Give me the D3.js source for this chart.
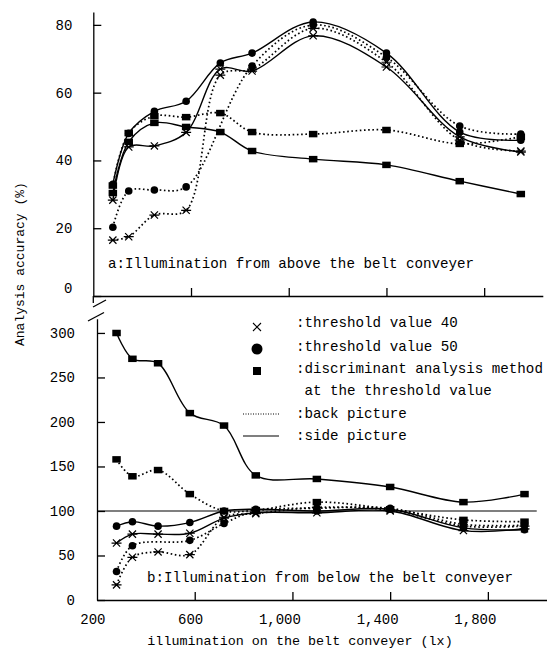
<!DOCTYPE html>
<html><head><meta charset="utf-8">
<script src="https://cdn.jsdelivr.net/npm/d3@7/dist/d3.min.js"></script>
<style>
body{margin:0;background:#fff}
text{font-family:"Liberation Mono","DejaVu Sans Mono",monospace;fill:#000}
</style>
</head><body>
<svg id="chart" width="551" height="651"></svg>
<script>
// ---------- data ----------
const xValues = [280, 345, 450, 580, 720, 850, 1100, 1400, 1700, 1950];
const xTickValues = [200, 600, 1000, 1400, 1800];
const xTickLabels = ["200", "600", "1,000", "1,400", "1,800"];
const upperYTicks = [0, 20, 40, 60, 80];
const lowerYTicks = [0, 50, 100, 150, 200, 250, 300];

// a: illumination from above
const aSideCircle = [33, 48, 54.5, 57.5, 68.8, 71.7, 80.9, 71.7, 48.4, 46.0];
const aBackCircle = [20.3, 31.0, 31.3, 32.2, null, 67.9, 80.0, 70.5, 50.2, 47.8];
const aSideCross  = [28.3, 44.0, 44.3, 48.3, 67.0, 66.4, 76.8, 67.6, 47.0, 42.5];
const aBackCross  = [16.5, 17.5, 23.9, 25.3, 65.2, 67.0, 79.0, 69.0, 46.0, 42.8];
const aSideSquare = [30.4, 45.5, 51.1, 49.9, 48.4, 42.8, 40.4, 38.7, 33.9, 30.1];
const aBackSquare = [32.6, 48.1, 53.1, 52.8, 54.0, 48.4, 47.8, 49.0, 44.9, 47.0];

// b: illumination from below
const bSideSquare = [300, 271, 266, 210, 196, 140, 136, 127, 110, 119];
const bBackSquare = [158, 139, 146, 119, 100, 101, 110, 102, 90, 88];
const bSideCircle = [83, 88, 83, 87, 100, 102, 100, 102, 81, 79];
const bSideCross  = [64, 74, 74, 75, 92, 98, 98, 100, 78, 80];
const bBackCircle = [32, 61, null, 67, 86, 100, 103, 103, 85, 84];
const bBackCross  = [17, 48, 54, 51, 93, 97, 104, 101, 83, 83];

const legendLabels = [":threshold value 40", ":threshold value 50", ":discriminant analysis method", " at the threshold value", ":back picture", ":side picture"];

// ---------- drawing ----------
const svg = d3.select("#chart");
const dash = "1.6,2.6";

const xUp = d3.scaleLinear().domain([200, 2040]).range([93.3, 542.8]);
const xLo = d3.scaleLinear().domain([200, 2040]).range([97, 546.5]);
const yUp = d3.scaleLinear().domain([0, 80]).range([296, 25]);
const yLo = d3.scaleLinear().domain([0, 300]).range([600, 333]);

function marker(g, type, x, y, big) {
  if (type === "circle") {
    g.append("circle").attr("cx", x).attr("cy", y).attr("r", big ? 5.5 : 3.8).attr("fill", "#000");
  } else if (type === "square") {
    const w = big ? 8 : 8.5, h = big ? 8 : 6.5;
    g.append("rect").attr("x", x - w / 2).attr("y", y - h / 2).attr("width", w).attr("height", h).attr("fill", "#000");
  } else if (type === "cross") {
    const s = 4;
    g.append("path").attr("d", `M${x-s},${y-s}L${x+s},${y+s}M${x-s},${y+s}L${x+s},${y-s}`)
      .attr("stroke", "#000").attr("stroke-width", 1.1).attr("fill", "none");
  } else { // asterisk
    const s = 3.6;
    g.append("path").attr("d", `M${x-s},${y-s}L${x+s},${y+s}M${x-s},${y+s}L${x+s},${y-s}M${x-5},${y}L${x+5},${y}`)
      .attr("stroke", "#000").attr("stroke-width", 1.2).attr("fill", "none");
  }
}

function drawSeries(xs, ys, list) {
  const g = svg.append("g");
  list.forEach(s => {
    const pts = xValues.map((x, i) => [x, s.vals[i]]).filter(d => d[1] != null);
    const line = d3.line().x(d => xs(d[0])).y(d => ys(d[1])).curve(d3.curveCatmullRom.alpha(0.5));
    g.append("path").attr("d", line(pts)).attr("fill", "none").attr("stroke", "#000")
      .attr("stroke-width", s.dashed ? 1.7 : 1.4)
      .attr("stroke-dasharray", s.dashed ? dash : null);
  });
  list.forEach(s => {
    xValues.forEach((x, i) => {
      if (s.vals[i] != null) marker(g, s.mark, xs(x), ys(s.vals[i]), false);
    });
  });
}

// reference line at 100 in panel b
svg.append("line").attr("x1", xLo(200)).attr("x2", xLo(2000)).attr("y1", yLo(100)).attr("y2", yLo(100))
  .attr("stroke", "#000").attr("stroke-width", 1.2);

drawSeries(xUp, yUp, [
  {vals: aSideSquare, mark: "square", dashed: false},
  {vals: aBackSquare, mark: "square", dashed: true},
  {vals: aBackCross, mark: "asterisk", dashed: true},
  {vals: aBackCircle, mark: "circle", dashed: true},
  {vals: aSideCross, mark: "asterisk", dashed: false},
  {vals: aSideCircle, mark: "circle", dashed: false}
]);
drawSeries(xLo, yLo, [
  {vals: bSideSquare, mark: "square", dashed: false},
  {vals: bBackSquare, mark: "square", dashed: true},
  {vals: bBackCross, mark: "asterisk", dashed: true},
  {vals: bBackCircle, mark: "circle", dashed: true},
  {vals: bSideCross, mark: "asterisk", dashed: false},
  {vals: bSideCircle, mark: "circle", dashed: false}
]);

// ---------- axes ----------
function styleAxis(g) {
  g.selectAll("path,line").attr("stroke", "#000").attr("stroke-width", 1.3);
  g.selectAll("text").attr("font-family", "Liberation Mono, monospace").attr("font-size", 14).attr("fill", "#000");
}
// upper panel
const gUpY = svg.append("g").attr("transform", `translate(${xUp(200)},0)`)
  .call(d3.axisLeft(yUp.copy().domain([0, 83.8]).range([296, 12])).tickValues(upperYTicks).tickSize(-8).tickSizeOuter(0).tickPadding(21));
styleAxis(gUpY);
gUpY.selectAll(".tick").filter(d => d === 0).select("text").attr("dy", "-0.25em");
const gUpX = svg.append("g").attr("transform", `translate(0,${yUp(0)})`)
  .call(d3.axisBottom(xUp).tickValues(xTickValues.slice(1)).tickFormat("").tickSize(-8).tickSizeOuter(0));
styleAxis(gUpX);
// lower panel
const gLoY = svg.append("g").attr("transform", `translate(${xLo(200)},0)`)
  .call(d3.axisLeft(yLo.copy().domain([0, 316]).range([600, 318.7])).tickValues(lowerYTicks).tickSize(-8).tickSizeOuter(0).tickPadding(22));
styleAxis(gLoY);
const gLoX = svg.append("g").attr("transform", `translate(0,${yLo(0)})`)
  .call(d3.axisBottom(xLo).tickValues(xTickValues).tickFormat((d, i) => xTickLabels[i]).tickSize(-8).tickSizeOuter(0).tickPadding(14));
styleAxis(gLoX);
gLoX.selectAll(".tick text").attr("text-anchor", "end").attr("dx", 8);
gLoX.selectAll(".tick").filter(d => d === 200).select("line").remove();

// axis break
svg.append("line").attr("x1", xUp(200)).attr("x2", xUp(200)).attr("y1", 296).attr("y2", 303).attr("stroke", "#000").attr("stroke-width", 1.3);
svg.append("line").attr("x1", 93).attr("y1", 307).attr("x2", 106).attr("y2", 300).attr("stroke", "#000").attr("stroke-width", 1.3);
svg.append("line").attr("x1", 88).attr("y1", 321).attr("x2", 104).attr("y2", 312.5).attr("stroke", "#000").attr("stroke-width", 1.3);

// panel labels
svg.append("text").attr("x", 108).attr("y", 268).attr("font-size", 14.2).text("a:Illumination from above the belt conveyer");
svg.append("text").attr("x", 147).attr("y", 582).attr("font-size", 14.2).text("b:Illumination from below the belt conveyer");

// legend
const lg = svg.append("g");
marker(lg, "cross", 257, 327, true);
marker(lg, "circle", 257, 349, true);
marker(lg, "square", 257, 371, true);
lg.append("line").attr("x1", 243).attr("x2", 279).attr("y1", 414).attr("y2", 414).attr("stroke", "#000").attr("stroke-width", 1).attr("stroke-dasharray", "1,1.5");
lg.append("line").attr("x1", 243).attr("x2", 279).attr("y1", 436).attr("y2", 436).attr("stroke", "#000").attr("stroke-width", 1.2);
const lgY = [327, 351, 373, 395, 418, 440];
legendLabels.forEach((t, i) => {
  lg.append("text").attr("x", 296).attr("y", lgY[i]).attr("font-size", 14.2).attr("xml:space", "preserve").style("white-space", "pre").text(t);
});

// titles
svg.append("text").attr("x", 300).attr("y", 645).attr("text-anchor", "middle").attr("font-size", 13.4)
  .text("illumination on the belt conveyer (lx)");
svg.append("text").attr("transform", "translate(24,346) rotate(-90)").attr("text-anchor", "start").attr("font-size", 13)
  .style("white-space", "pre").text("Analysis accuracy (%)");
</script>
</body></html>
